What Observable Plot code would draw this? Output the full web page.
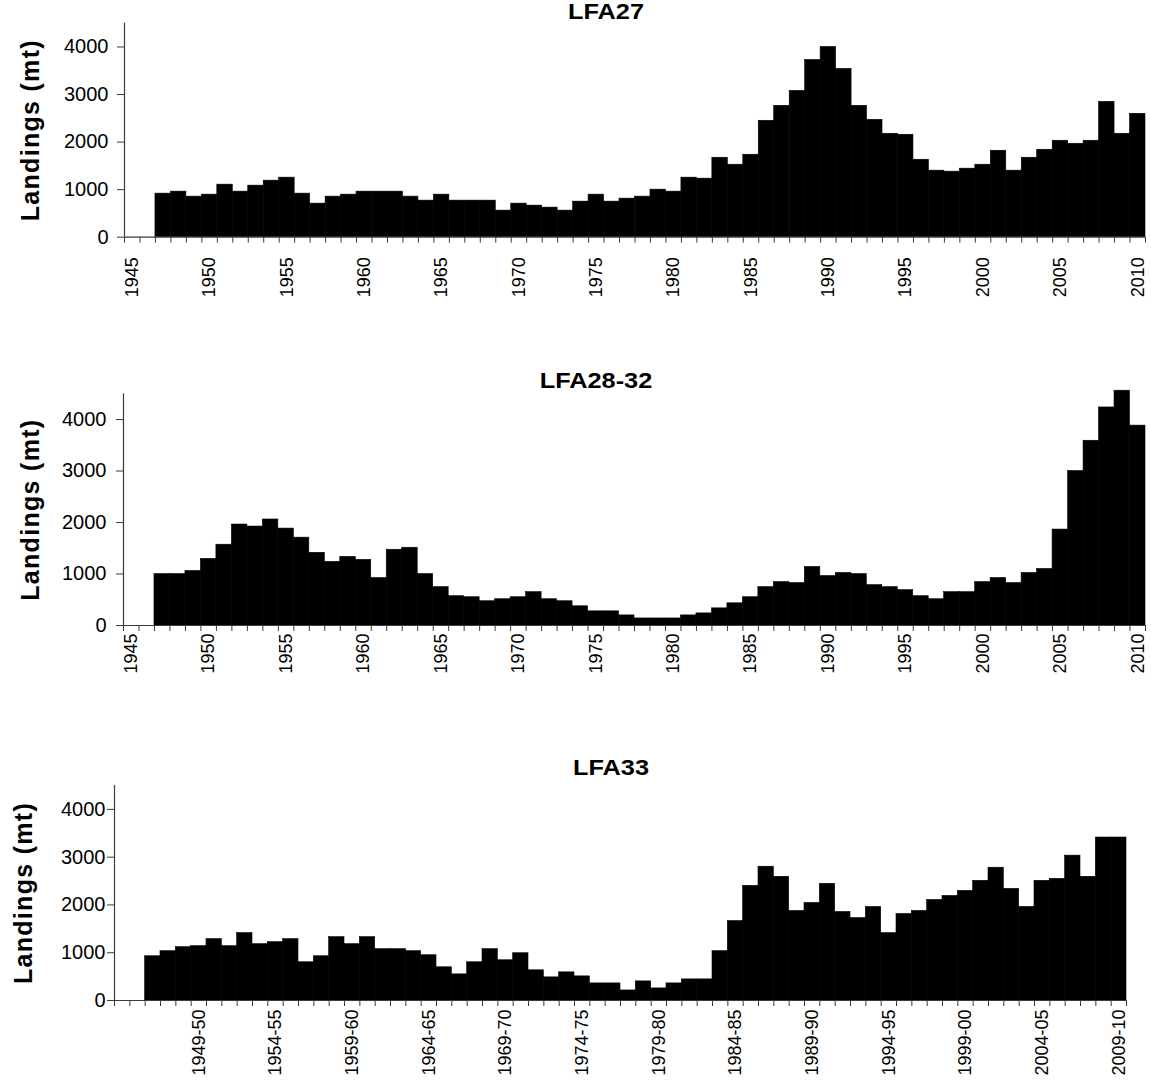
<!DOCTYPE html>
<html><head><meta charset="utf-8">
<script src="https://cdn.jsdelivr.net/npm/d3@7"></script>
<script src="https://cdn.jsdelivr.net/npm/@observablehq/plot@0.6"></script>
<style>
body{margin:0;background:#fff;font-family:"Liberation Sans",Arial,sans-serif;}
#wrap{position:relative;width:1151px;height:1089px;overflow:hidden;}
.panel{position:absolute;left:0;}
.title{position:absolute;font-weight:bold;font-size:22px;line-height:22px;white-space:nowrap;color:#000;transform:translateX(-50%) scaleX(1.15);}
</style></head><body><div id="wrap"></div>
<script>
// Categories
const years = [1947,1948,1949,1950,1951,1952,1953,1954,1955,1956,1957,1958,1959,1960,1961,1962,1963,1964,1965,1966,
  1967,1968,1969,1970,1971,1972,1973,1974,1975,1976,1977,1978,1979,1980,1981,1982,1983,1984,1985,1986,
  1987,1988,1989,1990,1991,1992,1993,1994,1995,1996,1997,1998,1999,2000,2001,2002,2003,2004,2005,2006,
  2007,2008,2009,2010];
const seasons = ["1946-47","1947-48","1948-49","1949-50","1950-51","1951-52","1952-53","1953-54","1954-55","1955-56",
  "1956-57","1957-58","1958-59","1959-60","1960-61","1961-62","1962-63","1963-64","1964-65","1965-66",
  "1966-67","1967-68","1968-69","1969-70","1970-71","1971-72","1972-73","1973-74","1974-75","1975-76",
  "1976-77","1977-78","1978-79","1979-80","1980-81","1981-82","1982-83","1983-84","1984-85","1985-86",
  "1986-87","1987-88","1988-89","1989-90","1990-91","1991-92","1992-93","1993-94","1994-95","1995-96",
  "1996-97","1997-98","1998-99","1999-00","2000-01","2001-02","2002-03","2003-04","2004-05","2005-06",
  "2006-07","2007-08","2008-09","2009-10"];

// Series values (landings, mt)
const lfa27 = [916,958,853,895,1105,958,1084,1189,1252,916, 706,853,895,958,958,958,853,769,895,769,
  769,769,559,706,664,622,559,748,895,748, 811,853,1000,958,1252,1231,1671,1524,1734,2448,
  2762,3077,3727,4000,3538,2762,2469,2175,2154,1629, 1399,1378,1441,1524,1818,1399,1671,1839,2028,1965,
  2028,2846,2175,2594];
const lfa2832 = [1000,1000,1059,1294,1569,1961,1922,2059,1882,1706, 1412,1235,1333,1275,922,1471,1510,1000,745,569,
  549,471,510,549,647,510,471,373,275,275, 196,137,137,137,196,235,333,431,549,745,
  843,824,1137,961,1020,1000,784,745,686,569, 510,647,647,843,922,824,1020,1098,1863,3000,
  3588,4235,4560,3882];
const lfa33 = [926,1032,1116,1137,1284,1137,1411,1179,1221,1284, 800,926,1326,1179,1326,1074,1074,1032,947,695,
  547,800,1074,842,989,632,484,589,505,358, 358,210,400,253,358,442,442,1032,1663,2400,
  2800,2589,1874,2042,2442,1853,1726,1958,1411,1811, 1874,2105,2189,2295,2505,2779,2337,1958,2505,2547,
  3032,2589,3411,3411];

// Tick labels
const yTicks = [0,1000,2000,3000,4000];
const yearLabels = [1945,1950,1955,1960,1965,1970,1975,1980,1985,1990,1995,2000,2005,2010];
const seasonLabels = ["1949-50","1954-55","1959-60","1964-65","1969-70","1974-75","1979-80","1984-85","1989-90","1994-95","1999-00","2004-05","2009-10"];
const titles = ["LFA27","LFA28-32","LFA33"];
const yTitle = "Landings (mt)";

const wrap = document.getElementById("wrap");

function panel(o){
  const [x0,x1] = o.xdomain;
  const bounds = [];
  for (let b = x0; b <= x1 + 1e-9; b += 1) bounds.push(b);
  const axisColor = "#3a3a3a";
  const svg = Plot.plot({
    width:1151, height:o.height,
    marginTop:o.mt, marginBottom:o.mb, marginLeft:o.ml, marginRight:o.mr,
    style:{fontFamily:"'Liberation Sans', Arial, sans-serif", fontSize:"18px", color:"#000", background:"transparent", overflow:"visible"},
    x:{domain:o.xdomain},
    y:{domain:[0,o.ymax]},
    marks:[
      Plot.rect(o.data, {x1:d=>d.x-0.5, x2:d=>d.x+0.5, y1:0, y2:"v", fill:"#000", stroke:"#000", strokeWidth:0.6}),
      Plot.axisY({ticks:yTicks, tickSize:7, tickPadding:o.yPad, tickFormat:d=>String(d), label:null, stroke:axisColor, fontSize:20}),
      Plot.axisX({ticks:bounds, tickSize:6, tickFormat:()=> "", label:null, stroke:axisColor}),
      Plot.axisX({ticks:o.labelTicks, tickSize:0, tickRotate:-90, tickPadding:o.xPad, tickFormat:o.fmt, label:null, fontSize:18}),
      Plot.ruleY([0], {stroke:axisColor, strokeWidth:1.2}),
      Plot.ruleX([x0], {stroke:axisColor, strokeWidth:1.2}),
      Plot.text([yTitle], {frameAnchor:"left", textAnchor:"middle", lineAnchor:"middle", dx:-(o.ml - o.labelX), rotate:-90, fontWeight:"bold", fontSize:25, fill:"#000"})
    ]
  });
  svg.classList.add("panel");
  svg.style.top = o.top + "px";
  d3.select(svg).selectAll("text").filter(function(){ return this.textContent === yTitle; })
    .attr("letter-spacing", "1.3");
  wrap.appendChild(svg);
  const t = document.createElement("div");
  t.className = "title";
  t.textContent = o.title;
  t.style.left = o.titleX + "px";
  t.style.top = o.titleY + "px";
  wrap.appendChild(t);
}

panel({
  title:titles[0], titleX:606, titleY:1,
  top:0, height:300, mt:22.7, mb:63.3, ml:124, mr:6, ymax:4500,
  xdomain:[1944.5, 2010.5], data:years.map((y,i)=>({x:y, v:lfa27[i]})),
  labelTicks:yearLabels, fmt:d=>String(d), xPad:20, yPad:9, labelX:30
});
panel({
  title:titles[1], titleX:596, titleY:370,
  top:360, height:330, mt:33.3, mb:65, ml:123, mr:6, ymax:4500,
  xdomain:[1944.5, 2010.5], data:years.map((y,i)=>({x:y, v:lfa2832[i]})),
  labelTicks:yearLabels, fmt:d=>String(d), xPad:8, yPad:10, labelX:30
});
panel({
  title:titles[2], titleX:611, titleY:757,
  top:750, height:339, mt:35, mb:89, ml:114, mr:25, ymax:4500,
  xdomain:[1943.5, 2009.5], data:seasons.map((s,i)=>({x:+s.slice(0,4), v:lfa33[i]})),
  labelTicks:seasonLabels.map(s=>+s.slice(0,4)), fmt:d=>seasonLabels.find(s=>+s.slice(0,4)===d), xPad:9, yPad:2, labelX:23
});
</script>
</body></html>
